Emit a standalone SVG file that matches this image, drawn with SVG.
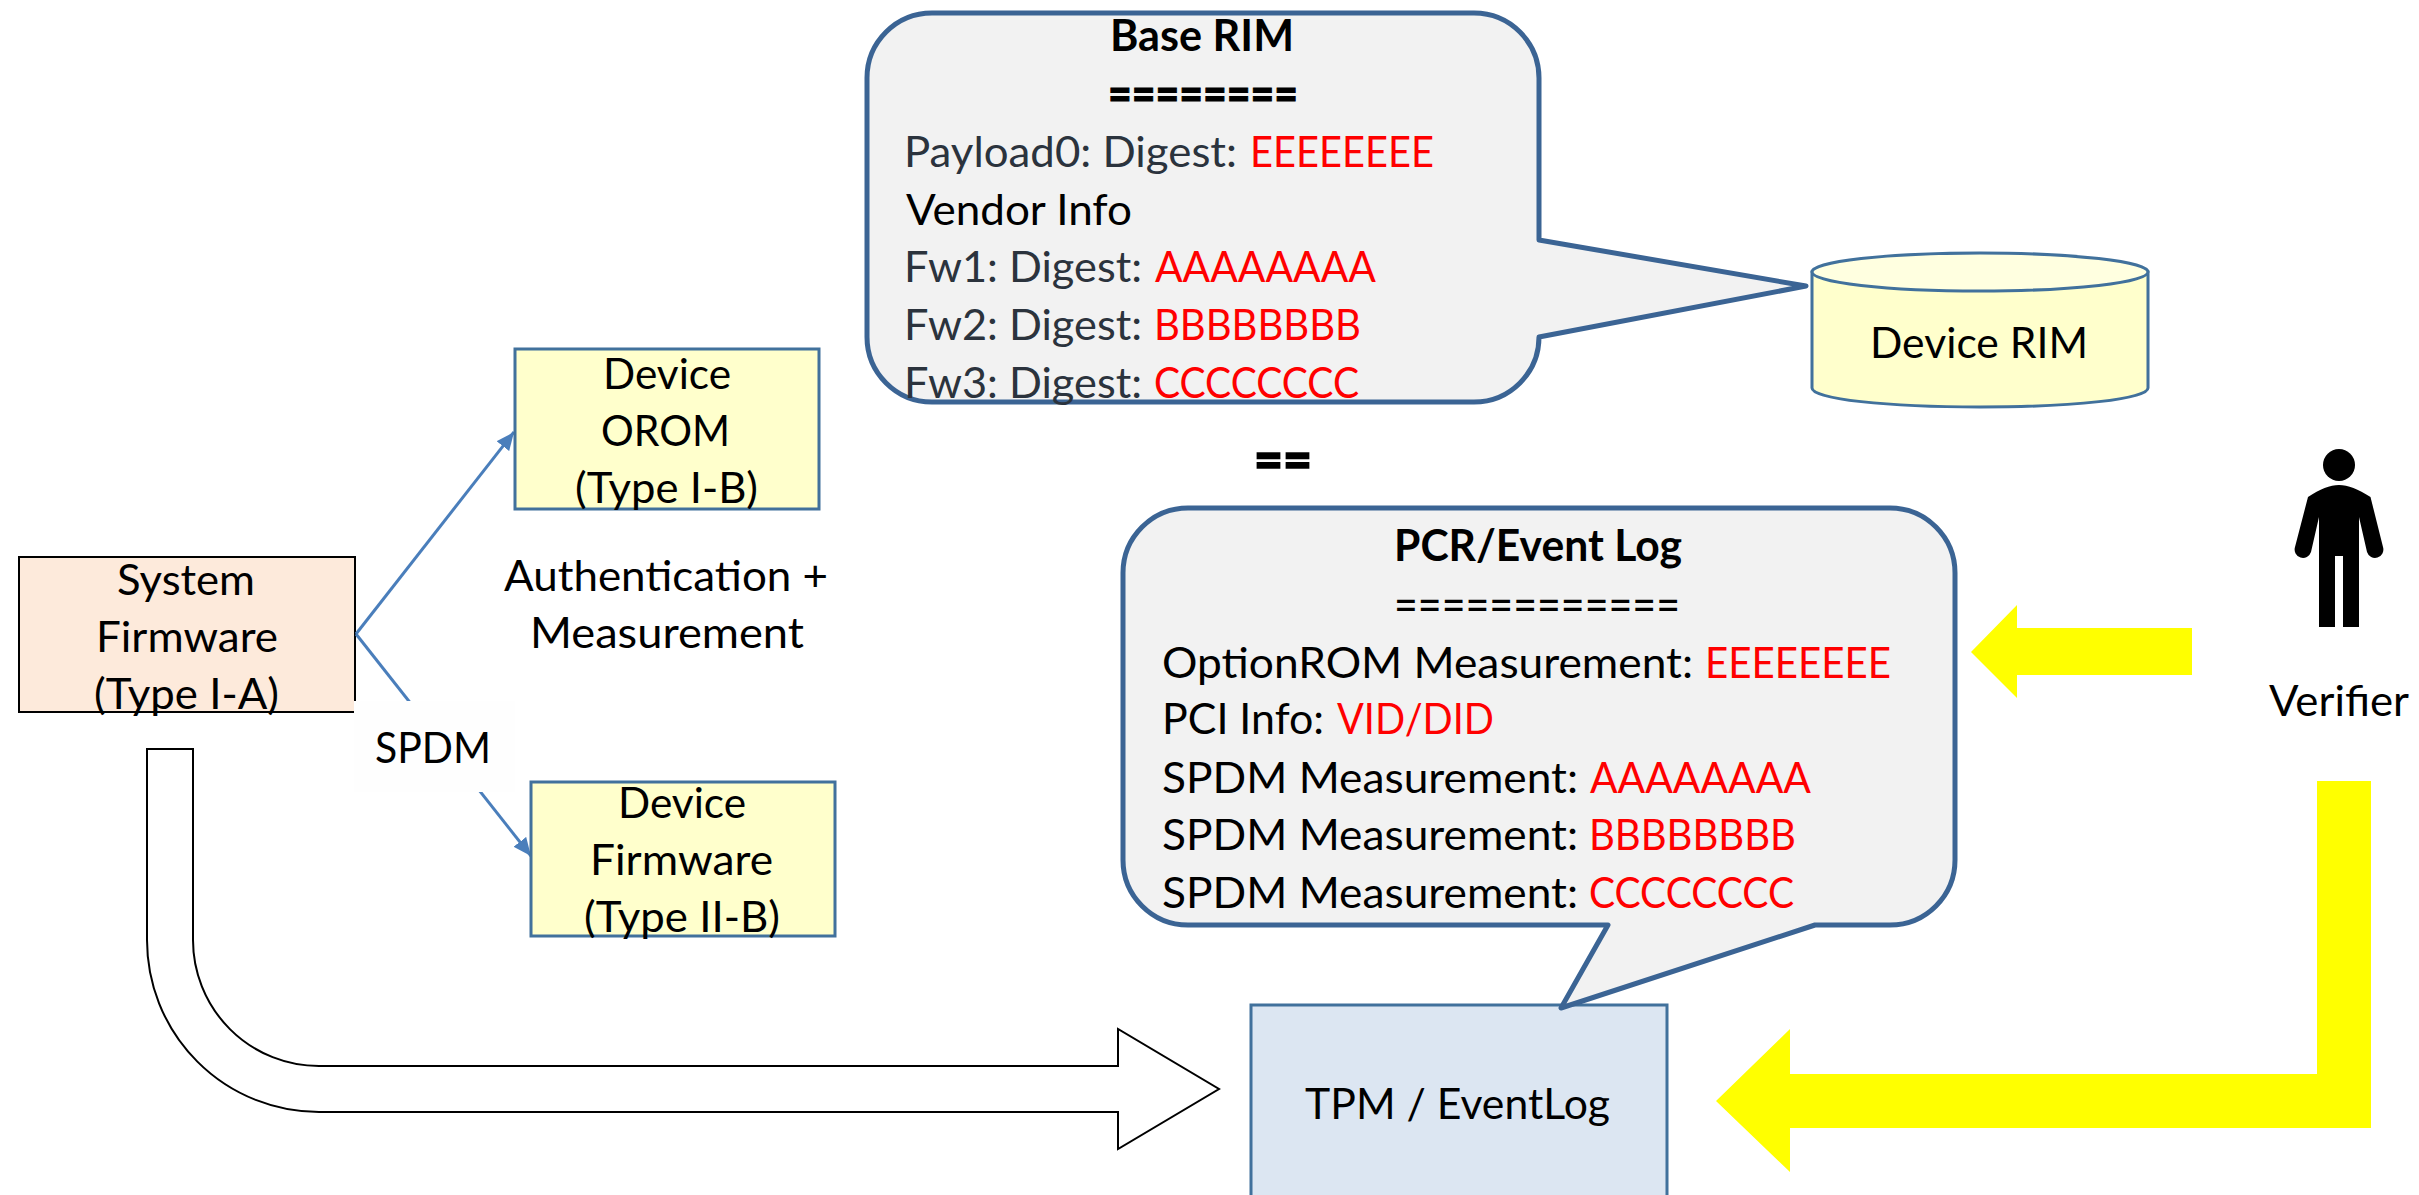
<svg xmlns="http://www.w3.org/2000/svg" width="2419" height="1195" viewBox="0 0 2419 1195">
<style>
text{font-family:"Lato","Carlito","Liberation Sans",sans-serif;font-size:43px;fill:#000}
.b{font-weight:700}
.g{fill:#2b333d}
.r{fill:#f00}
.eq{font-size:54px;font-weight:900;stroke:#000;stroke-width:1.5px}
.eq2{font-size:48px}
.eq3{stroke:#000;stroke-width:1px}
.call{fill:#f2f2f2;stroke:#3b6494;stroke-width:5;stroke-linejoin:round}
.box{stroke:#41719c;stroke-width:3}
.y{fill:#ffc}
.yl{fill:#ff0}
.conn{stroke:#4a7ebb;stroke-width:3;fill:none}
.hollow{fill:#fff;stroke:#000;stroke-width:2}
</style>
<defs>
<marker id="ah" markerUnits="userSpaceOnUse" markerWidth="20" markerHeight="18" refX="18" refY="8" orient="auto"><path d="M0 0L18 8L0 16z" fill="#4a7ebb"/></marker>
</defs>
<g id="system-firmware">
<rect x="19" y="557" width="336" height="155" fill="#fdeadb" stroke="#000" stroke-width="2"/>
<text x="117" y="595" textLength="138" lengthAdjust="spacingAndGlyphs">System</text>
<text x="96" y="652" textLength="182" lengthAdjust="spacingAndGlyphs">Firmware</text>
<text x="94" y="709" textLength="185" lengthAdjust="spacingAndGlyphs">(Type I-A)</text>
</g>
<g id="connectors">
<path class="conn" d="M356 634L514 432" marker-end="url(#ah)"/>
<path class="conn" d="M356 634L531 856" marker-end="url(#ah)"/>
</g>
<g id="device-orom">
<rect class="box y" x="515" y="349" width="304" height="160"/>
<text x="603" y="389" textLength="128" lengthAdjust="spacingAndGlyphs">Device</text>
<text x="601" y="446" textLength="129" lengthAdjust="spacingAndGlyphs">OROM</text>
<text x="575" y="503" textLength="183" lengthAdjust="spacingAndGlyphs">(Type I-B)</text>
</g>
<g id="auth-label">
<text x="504" y="591" textLength="324" lengthAdjust="spacingAndGlyphs">Authentication +</text>
<text x="530" y="648" textLength="274" lengthAdjust="spacingAndGlyphs">Measurement</text>
</g>
<g id="spdm-label">
<rect x="354" y="701" width="161" height="91" fill="#fefefe"/>
<text x="375" y="763" textLength="116" lengthAdjust="spacingAndGlyphs">SPDM</text>
</g>
<g id="device-firmware">
<rect class="box y" x="531" y="782" width="304" height="154"/>
<text x="618" y="818" textLength="128" lengthAdjust="spacingAndGlyphs">Device</text>
<text x="590" y="875" textLength="183" lengthAdjust="spacingAndGlyphs">Firmware</text>
<text x="584" y="932" textLength="196" lengthAdjust="spacingAndGlyphs">(Type II-B)</text>
</g>
<g id="base-rim">
<path class="call" d="M932 13H1474A65 65 0 0 1 1539 78V240L1806 286L1539 337A65 65 0 0 1 1474 402H932A65 65 0 0 1 867 337V78A65 65 0 0 1 932 13Z"/>
<text class="b" x="1110" y="51" textLength="184" lengthAdjust="spacingAndGlyphs">Base RIM</text>
<text class="b eq2 eq3" x="1108" y="111" textLength="190" lengthAdjust="spacingAndGlyphs">========</text>
<text class="g" x="904" y="167" textLength="333" lengthAdjust="spacingAndGlyphs">Payload0: Digest:</text>
<text class="r" x="1250" y="167" textLength="184" lengthAdjust="spacingAndGlyphs">EEEEEEEE</text>
<text x="906" y="225" textLength="226" lengthAdjust="spacingAndGlyphs">Vendor Info</text>
<text class="g" x="904" y="282" textLength="238" lengthAdjust="spacingAndGlyphs">Fw1: Digest:</text>
<text class="r" x="1155" y="282" textLength="221" lengthAdjust="spacingAndGlyphs">AAAAAAAA</text>
<text class="g" x="904" y="340" textLength="238" lengthAdjust="spacingAndGlyphs">Fw2: Digest:</text>
<text class="r" x="1154" y="340" textLength="207" lengthAdjust="spacingAndGlyphs">BBBBBBBB</text>
<text class="g" x="904" y="398" textLength="238" lengthAdjust="spacingAndGlyphs">Fw3: Digest:</text>
<text class="r" x="1154" y="398" textLength="205" lengthAdjust="spacingAndGlyphs">CCCCCCCC</text>
</g>
<g id="device-rim">
<path class="box y" d="M1812 272V388C1812 399 1887 407 1980 407S2148 399 2148 388V272Z"/>
<ellipse class="box" cx="1980" cy="272" rx="168" ry="19" fill="#ffffe0"/>
<text x="1870" y="358" textLength="218" lengthAdjust="spacingAndGlyphs">Device RIM</text>
</g>
<g id="equals">
<text class="eq" x="1254" y="478" textLength="58" lengthAdjust="spacingAndGlyphs">==</text>
</g>
<g id="tpm">
<rect class="box" x="1251" y="1005" width="416" height="195" fill="#dce6f2"/>
<text x="1305" y="1119" textLength="305" lengthAdjust="spacingAndGlyphs">TPM / EventLog</text>
</g>
<g id="pcr-log">
<path class="call" d="M1188 508H1890A65 65 0 0 1 1955 573V860A65 65 0 0 1 1890 925H1815L1561 1008L1608 925H1188A65 65 0 0 1 1123 860V573A65 65 0 0 1 1188 508Z"/>
<text class="b" x="1394" y="561" textLength="288" lengthAdjust="spacingAndGlyphs">PCR/Event Log</text>
<text class="eq2" x="1394" y="622" textLength="286" lengthAdjust="spacingAndGlyphs">============</text>
<text x="1162" y="678" textLength="531" lengthAdjust="spacingAndGlyphs">OptionROM Measurement:</text>
<text class="r" x="1705" y="678" textLength="186" lengthAdjust="spacingAndGlyphs">EEEEEEEE</text>
<text x="1162" y="734" textLength="162" lengthAdjust="spacingAndGlyphs">PCI Info:</text>
<text class="r" x="1337" y="734" textLength="157" lengthAdjust="spacingAndGlyphs">VID/DID</text>
<text x="1162" y="793" textLength="416" lengthAdjust="spacingAndGlyphs">SPDM Measurement:</text>
<text class="r" x="1590" y="793" textLength="221" lengthAdjust="spacingAndGlyphs">AAAAAAAA</text>
<text x="1162" y="850" textLength="416" lengthAdjust="spacingAndGlyphs">SPDM Measurement:</text>
<text class="r" x="1589" y="850" textLength="207" lengthAdjust="spacingAndGlyphs">BBBBBBBB</text>
<text x="1162" y="908" textLength="416" lengthAdjust="spacingAndGlyphs">SPDM Measurement:</text>
<text class="r" x="1589" y="908" textLength="205" lengthAdjust="spacingAndGlyphs">CCCCCCCC</text>
</g>
<g id="measure-arrow">
<path class="hollow" d="M147 749H193V940A126 126 0 0 0 319 1066H1118V1029L1219 1089L1118 1149V1112H319A172 172 0 0 1 147 940Z"/>
</g>
<g id="verifier">
<circle cx="2339" cy="465" r="16"/>
<path d="M2308 497C2320 489 2330 485 2339 485S2358 489 2370.500 497L2383 547A8 8 0 0 1 2367 552L2359 517V627H2343V556H2335V627H2319V517L2311 552A8 8 0 0 1 2295 547Z"/>
<text x="2269" y="716" textLength="140" lengthAdjust="spacingAndGlyphs">Verifier</text>
</g>
<g id="verifier-arrows">
<path class="yl" d="M2192 628H2017V605L1971 652L2017 698V675H2192Z"/>
<path class="yl" d="M2317 781H2371V1128H1790V1172L1716 1101L1790 1029V1074H2317Z"/>
</g>
</svg>
